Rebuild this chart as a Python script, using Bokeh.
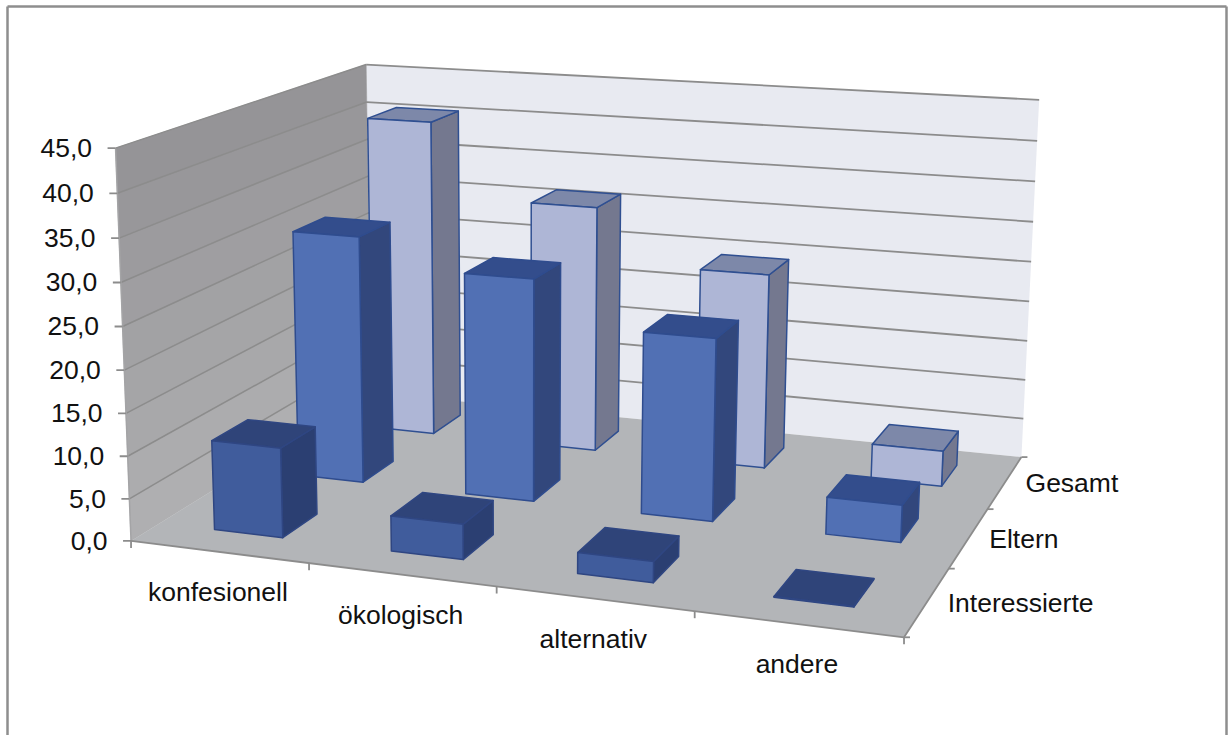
import numpy as np
from bokeh.embed import file_html
from bokeh.models import Range1d
from bokeh.plotting import figure
from bokeh.resources import INLINE
from bokeh.core.properties import value

# Chart data
categories = ["konfesionell", "ökologisch", "alternativ", "andere"]
series_names = ["Interessierte", "Eltern", "Gesamt"]
interessierte = [10.6, 4.1, 2.4, 0.1]
eltern = [30.4, 27.0, 21.8, 4.4]
gesamt = [40.6, 31.2, 24.4, 4.4]
y_ticks = [0, 5, 10, 15, 20, 25, 30, 35, 40, 45]
y_tick_labels = ["0,0", "5,0", "10,0", "15,0", "20,0", "25,0", "30,0", "35,0", "40,0", "45,0"]

# Styles
FRONT = ["#405C9C", "#5170B4", "#AEB6D6"]
TOP = ["#2F4479", "#334D8C", "#7D88A9"]
SIDE = ["#2B3F72", "#32477C", "#74788F"]
EDGE = ["#2F4682", "#2F4C8E", "#2F4F91"]
GRID = "#8C8C8C"
FONT = "Liberation Sans"
FONT_SIZE = "26.5px"
BAR_HALF_U = 0.195
BAR_HALF_V = 0.205
BAR_START_U = 0.51
BAR_PITCH_U = 0.995
BAR_CENTER_V = 0.515

# Camera: a projective map from (category, series, value) to page pixels,
# solved from the corners of the plot box.
zmax = y_ticks[-1]
box = [
    ((0, 0, 0), (133, 540)), ((4, 0, 0), (903, 638)),
    ((4, 3, 0), (1022, 455)), ((0, 3, 0), (368, 393)),
    ((0, 0, zmax), (113, 147)), ((0, 3, zmax), (368, 64)),
    ((4, 3, zmax), (1038, 100)),
]
rows, rhs = [], []
for (u, v, z), (sx, sy) in box:
    w = z / zmax
    rows.append([u, v, w, 1, 0, 0, 0, 0, -sx * u, -sx * v, -sx * w])
    rows.append([0, 0, 0, 0, u, v, w, 1, -sy * u, -sy * v, -sy * w])
    rhs += [sx, sy]
sol = np.linalg.lstsq(np.array(rows, float), np.array(rhs, float), rcond=None)[0]
P = np.append(sol, 1.0).reshape(3, 4)


def proj(u, v, z):
    h = P @ np.array([u, v, z / zmax, 1.0])
    return h[0] / h[2], h[1] / h[2]


def poly(points):
    pts = [proj(*pt) for pt in points]
    return [a for a, _ in pts], [b for _, b in pts]


def mix(c1, c2, t):
    a = [int(c1[i:i + 2], 16) for i in (1, 3, 5)]
    b = [int(c2[i:i + 2], 16) for i in (1, 3, 5)]
    return "#%02X%02X%02X" % tuple(round(x + (y - x) * t) for x, y in zip(a, b))


p = figure(width=1228, height=735, output_backend="svg", toolbar_location=None,
           x_range=Range1d(0, 1228), y_range=Range1d(735, 0),
           x_axis_location=None, y_axis_location=None, min_border=0,
           outline_line_color=None, background_fill_color="white",
           border_fill_color="white")
p.xgrid.visible = False
p.ygrid.visible = False

# Outer frame of the chart area
p.line([7, 7], [735, 6], line_color="#8E8E8E", line_width=2.5)
p.line([7, 1226], [6, 6], line_color="#8E8E8E", line_width=2.5)
p.line([1226, 1226], [6, 735], line_color="#8E8E8E", line_width=2.5)

# Walls and floor
xs, ys = poly([(0, 3, 0), (4, 3, 0), (4, 3, zmax), (0, 3, zmax)])
p.patch(xs, ys, fill_color="#E8EAF1", line_color=None)

steps = list(zip(y_ticks[:-1], y_ticks[1:]))
for i, (z0, z1) in enumerate(steps):
    xs, ys = poly([(0, 0, z0), (0, 3, z0), (0, 3, z1), (0, 0, z1)])
    shade = mix("#AFAFB1", "#959497", i / (len(steps) - 1))
    p.patch(xs, ys, fill_color=shade, line_color=shade, line_width=0.5)

xs, ys = poly([(0, 0, 0), (4, 0, 0), (4, 3, 0), (0, 3, 0)])
p.patch(xs, ys, fill_color="#B3B5B8", line_color=None)

# Gridlines
for z in y_ticks[1:]:
    xs, ys = poly([(0, 0, z), (0, 3, z), (4, 3, z)])
    p.line(xs[:2], ys[:2], line_color=GRID, line_width=1.5)
    p.line(xs[1:], ys[1:], line_color=GRID, line_width=1.8)
xs, ys = poly([(0, 0, 0), (0, 0, zmax)])
p.line(xs, ys, line_color="#A4A4A6", line_width=1.5)

# Axis lines, ticks and tick labels
xs, ys = poly([(0, 0, 0), (4, 0, 0), (4, 3, 0)])
p.line(xs, ys, line_color=GRID, line_width=1.8)
for u in range(len(categories) + 1):
    x0, y0 = proj(u, 0, 0)
    p.line([x0, x0], [y0, y0 + 7], line_color=GRID, line_width=1.8)
for v in range(len(series_names) + 1):
    x0, y0 = proj(4, v, 0)
    p.line([x0, x0 + 6], [y0, y0], line_color=GRID, line_width=1.8)
for z, label in zip(y_ticks, y_tick_labels):
    x0, y0 = proj(0, 0, z)
    p.line([x0 - 8, x0], [y0, y0], line_color=GRID, line_width=1.8)
    p.text([x0 - 23.5], [y0], text=[label], text_align="right", text_baseline="middle",
           text_font=value(FONT), text_font_size=FONT_SIZE, text_color="#111111")

for i, name in enumerate(categories):
    x0, y0 = proj(i + 0.5, 0, 0)
    p.text([x0 - 1], [y0 + 40], text=[name], text_align="center", text_baseline="middle",
           text_font=value(FONT), text_font_size=FONT_SIZE, text_color="#111111")

for i, name in enumerate(series_names):
    x0, y0 = proj(4, i + 0.5, 0)
    p.text([x0 + 20.5], [y0 + 1], text=[name], text_align="left", text_baseline="middle",
           text_font=value(FONT), text_font_size=FONT_SIZE, text_color="#111111")

# Bars, painted from the back row to the front
rows_of_values = [interessierte, eltern, gesamt]
for s in reversed(range(len(series_names))):
    for c, val in enumerate(rows_of_values[s]):
        center_u = BAR_START_U + c * BAR_PITCH_U
        u0, u1 = center_u - BAR_HALF_U, center_u + BAR_HALF_U
        v0, v1 = s + BAR_CENTER_V - BAR_HALF_V, s + BAR_CENTER_V + BAR_HALF_V
        faces = [
            ([(u1, v0, 0), (u1, v1, 0), (u1, v1, val), (u1, v0, val)], SIDE[s]),
            ([(u0, v0, val), (u1, v0, val), (u1, v1, val), (u0, v1, val)], TOP[s]),
            ([(u0, v0, 0), (u1, v0, 0), (u1, v0, val), (u0, v0, val)], FRONT[s]),
        ]
        for pts, colour in faces:
            xs, ys = poly(pts)
            p.patch(xs, ys, fill_color=colour, line_color=EDGE[s], line_width=1.5, line_join="round")

open("out.html", "w").write(file_html(p, INLINE))
